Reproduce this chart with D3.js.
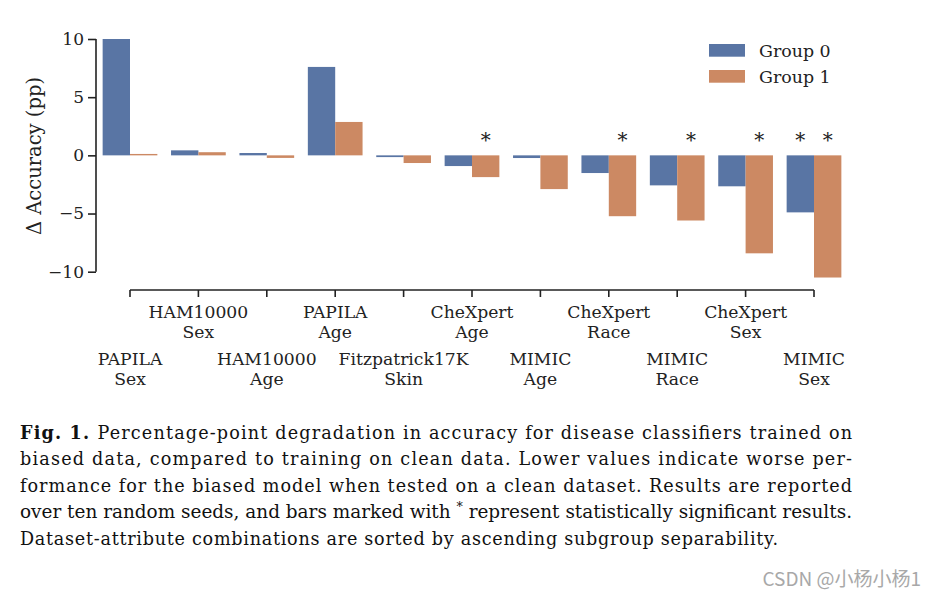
<!DOCTYPE html>
<html>
<head>
<meta charset="utf-8">
<script src="https://cdn.jsdelivr.net/npm/d3@7"></script>
<style>
  html, body { margin: 0; padding: 0; background: #fff; }
  svg { display: block; }
</style>
</head>
<body>
<svg id="chart" width="937" height="596"></svg>
<script>
// ---- data ----
const categories = [
  "PAPILA\nSex", "HAM10000\nSex", "HAM10000\nAge", "PAPILA\nAge", "Fitzpatrick17K\nSkin",
  "CheXpert\nAge", "MIMIC\nAge", "CheXpert\nRace", "MIMIC\nRace", "CheXpert\nSex", "MIMIC\nSex"
];
const seriesNames = ["Group 0", "Group 1"];
const group0 = [10.0, 0.43, 0.2, 7.6, -0.15, -0.92, -0.23, -1.52, -2.58, -2.66, -4.9];
const group1 = [0.12, 0.27, -0.22, 2.87, -0.66, -1.87, -2.9, -5.23, -5.6, -8.42, -10.5];
const signif0 = [0, 0, 0, 0, 0, 0, 0, 0, 0, 0, 1];
const signif1 = [0, 0, 0, 0, 0, 1, 0, 1, 1, 1, 1];
const yTicks = [-10, -5, 0, 5, 10];
const colors = ["#5975a4", "#cc8963"];
const captionLines = [
  "Percentage-point degradation in accuracy for disease classifiers trained on",
  "biased data, compared to training on clean data. Lower values indicate worse per-",
  "formance for the biased model when tested on a clean dataset. Results are reported",
  "over ten random seeds, and bars marked with * represent statistically significant results.",
  "Dataset-attribute combinations are sorted by ascending subgroup separability."
];

// ---- layout ----
const svg = d3.select("#chart");
const serif = "'DejaVu Serif', serif";
const x0 = 130, step = 68.4;
const x = d3.scaleBand().domain(categories)
  .range([x0 - step / 2, x0 + step * (categories.length - 0.5)]).padding(0);
const inner = d3.scaleBand().domain([0, 1]).range([0, x.bandwidth() * 0.8]);
const y = d3.scaleLinear().domain([-10, 10]).range([271.7, 39]);
const cx = c => x(c) + x.bandwidth() / 2;

// bars
const series = [group0, group1];
const sigs = [signif0, signif1];
series.forEach((vals, s) => {
  svg.append("g").selectAll("rect").data(categories).join("rect")
    .attr("x", (c) => cx(c) - x.bandwidth() * 0.4 + inner(s))
    .attr("width", inner.bandwidth())
    .attr("y", (c, i) => y(Math.max(0, vals[i])))
    .attr("height", (c, i) => Math.abs(y(vals[i]) - y(0)))
    .attr("fill", colors[s]);
  // significance stars
  svg.append("g").selectAll("text").data(categories.filter((c, i) => sigs[s][i]))
    .join("text")
    .attr("x", c => cx(c) - x.bandwidth() * 0.4 + inner(s) + inner.bandwidth() / 2)
    .attr("y", 147)
    .attr("text-anchor", "middle")
    .attr("font-family", serif)
    .attr("font-size", 20)
    .attr("fill", "#222")
    .text("*");
});

// y axis
const yAxis = svg.append("g").attr("transform", "translate(96,0)")
  .call(d3.axisLeft(y).tickValues(yTicks).tickSize(8).tickPadding(4)
    .tickFormat(d => d < 0 ? "\u2212" + Math.abs(d) : String(d)));
yAxis.select(".domain").attr("d", `M0,${y(10)}V${y(-10)}`).attr("stroke", "#222").attr("stroke-width", 1.6);
yAxis.selectAll(".tick line").attr("stroke", "#222").attr("stroke-width", 1.6);
yAxis.selectAll(".tick text").attr("font-family", serif).attr("font-size", 17).attr("fill", "#222");

// x axis
const xAxis = svg.append("g").attr("transform", "translate(0,290)")
  .call(d3.axisBottom(x).tickSize(7).tickFormat(""));
xAxis.select(".domain").attr("d", `M${cx(categories[0])},0H${cx(categories[categories.length - 1])}`)
  .attr("stroke", "#222").attr("stroke-width", 1.6);
xAxis.selectAll(".tick line").attr("stroke", "#222").attr("stroke-width", 1.6);
xAxis.selectAll(".tick").each(function (c, i) {
  const lines = c.split("\n");
  const base = i % 2 === 1 ? 28 : 75;
  const t = d3.select(this).append("text")
    .attr("font-family", serif).attr("font-size", 17.2).attr("fill", "#222")
    .attr("text-anchor", "middle");
  lines.forEach((l, k) => t.append("tspan").attr("x", 0).attr("y", base + k * 20).text(l));
});

// y label
svg.append("text")
  .attr("transform", "translate(41,156) rotate(-90)")
  .attr("text-anchor", "middle")
  .attr("font-family", serif).attr("font-size", 19.5).attr("fill", "#222")
  .text("\u0394 Accuracy (pp)");

// legend
const leg = svg.append("g");
seriesNames.forEach((n, s) => {
  leg.append("rect").attr("x", 709).attr("y", 44 + s * 26).attr("width", 36).attr("height", 12.7)
    .attr("fill", colors[s]);
  leg.append("text").attr("x", 759).attr("y", 56.5 + s * 26)
    .attr("font-family", serif).attr("font-size", 17.4).attr("fill", "#222").text(n);
});

// caption
const capFont = "'DejaVu Serif', serif";
const capY = [438.5, 465, 491.5, 518, 544.5];
captionLines.forEach((line, k) => {
  const t = svg.append("text")
    .attr("y", capY[k])
    .attr("font-family", capFont).attr("font-size", 17.6).attr("fill", "#111");
  if (k === 0) {
    t.attr("x", 20).attr("textLength", 832).attr("lengthAdjust", "spacing");
    t.append("tspan").attr("font-weight", "bold").text("Fig. 1. ");
    t.append("tspan").text(line);
  } else if (k === 3) {
    t.attr("x", 20).attr("textLength", 832).attr("lengthAdjust", "spacingAndGlyphs");
    const parts = line.split("*");
    t.append("tspan").text(parts[0]);
    t.append("tspan").attr("dy", -7).attr("font-size", 12).text("*");
    t.append("tspan").attr("dy", 7).text(parts[1]);
  } else if (k === 4) {
    t.attr("x", 20).attr("textLength", 758).attr("lengthAdjust", "spacing").text(line);
  } else {
    t.attr("x", 20).attr("textLength", 832).attr("lengthAdjust", "spacing").text(line);
  }
});

// watermark
svg.append("text").attr("x", 921).attr("y", 586).attr("text-anchor", "end")
  .attr("font-family", "'Noto Sans CJK SC', 'Noto Sans', sans-serif")
  .attr("font-size", 19).attr("fill", "#a8a8a8")
  .text("CSDN @\u5c0f\u6768\u5c0f\u67681");
</script>
</body>
</html>
